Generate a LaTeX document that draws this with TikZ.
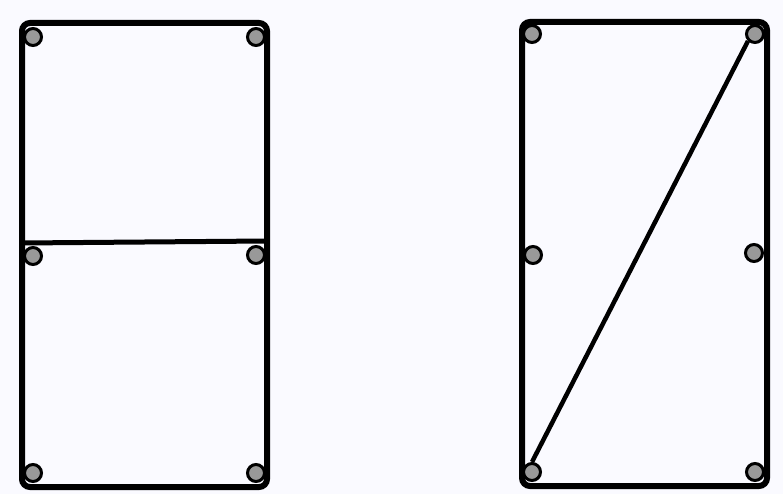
\documentclass[tikz,border=0pt]{standalone}
\begin{document}
\begin{tikzpicture}[x=1pt,y=-1pt,
  frame/.style={line width=6pt,rounded corners=8pt},
  bar/.style={line width=5pt},
  bolt/.style={circle,draw=black,line width=3pt,fill=black!40,minimum size=17pt,inner sep=0pt}]
\fill[blue!2!white] (0,0) rectangle (783,494);
\useasboundingbox (0,0) rectangle (783,494);
% left frame
\coordinate (LA) at (22,23);
\coordinate (LB) at (267,23);
\coordinate (LC) at (267,487);
\coordinate (LD) at (22,487);
\coordinate (LML) at (22,243);
\coordinate (LMR) at (267,241);
\draw[frame] (LA) -- (LB) -- (LC) -- (LD) -- cycle;
\draw[bar] (LML) -- (LMR);
\node[bolt] (l1) at (33,37) {};
\node[bolt] (l2) at (256,37) {};
\node[bolt] (l3) at (33,256) {};
\node[bolt] (l4) at (256,255) {};
\node[bolt] (l5) at (33,473) {};
\node[bolt] (l6) at (256,473) {};
% right frame
\coordinate (RA) at (522,22);
\coordinate (RB) at (767,22);
\coordinate (RC) at (767,486);
\coordinate (RD) at (522,486);
\draw[frame] (RA) -- (RB) -- (RC) -- (RD) -- cycle;
\node[bolt] (r1) at (532,34) {};
\node[bolt] (r2) at (755,34) {};
\node[bolt] (r3) at (533,255) {};
\node[bolt] (r4) at (754,253) {};
\node[bolt] (r5) at (532,472) {};
\node[bolt] (r6) at (755,472) {};
\draw[line width=4.5pt] (r5.north) -- (r2.south west);
\end{tikzpicture}
\end{document}
